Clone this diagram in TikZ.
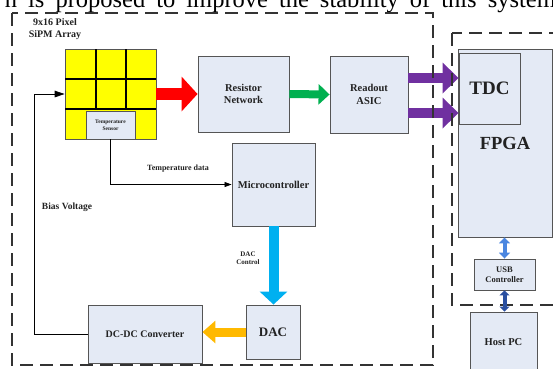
\documentclass[tikz,border=0pt]{standalone}
\usepackage{fontspec}
\setmainfont{Liberation Serif}
\usetikzlibrary{arrows.meta}
\definecolor{boxfill}{HTML}{E4EAF5}
\definecolor{boxline}{HTML}{555555}
\definecolor{dashcol}{HTML}{333333}
\definecolor{txt}{HTML}{222222}
\definecolor{sipmyellow}{HTML}{FFFF00}
\definecolor{arrred}{HTML}{FF0000}
\definecolor{arrgreen}{HTML}{00B050}
\definecolor{arrpurple}{HTML}{7030A0}
\definecolor{arrcyan}{HTML}{00B0F0}
\definecolor{arrorange}{HTML}{FFB900}
\definecolor{arrblue}{HTML}{4A86E0}
\definecolor{arrdblue}{HTML}{2A4FA0}
\begin{document}
\begin{tikzpicture}[x=1pt,y=-1pt,
  box/.style={draw=boxline,fill=boxfill,line width=0.9pt,inner sep=0pt,align=center,text=txt},
  lbl/.style={inner sep=0pt,align=center,text=txt},
  bf/.style={font=\fontsize{#1}{#1}\selectfont\bfseries},
  dashbox/.style={draw=dashcol,line width=1.3pt,dash pattern=on 13pt off 7pt},
  thin/.style={draw=black,line width=0.8pt},
  fat/.style={line width=#1},
]
\useasboundingbox (0,0) rectangle (553,368);
\clip (0,0) rectangle (553,368);

% cropped caption line at the top
\node[anchor=base east,inner sep=0pt,font=\fontsize{24.5}{24.5}\selectfont] (cap) at (556,7) {\spaceskip 11pt\relax n is proposed to improve the stability of this system};

% SiPM array
\node[draw=boxline,fill=sipmyellow,line width=0.6pt,minimum width=91pt,minimum height=90pt,inner sep=0pt] (sipm) at (110.5,94) {};
\draw[black,line width=1.4pt] (65,79) -- (156,79) (65,109) -- (156,109)
  (96,49) -- (96,109) (126,49) -- (126,109);
\node[box,line width=0.6pt,minimum width=49pt,minimum height=28pt,bf=5.5] (tsens) at (110.5,125) {Temperature\\[1pt]Sensor};

\node[lbl,bf=10] (sipmlbl) at (55,29.5) {9x16 Pixel\\[2pt]SiPM Array};

% blocks
\node[box,minimum width=91pt,minimum height=76pt,bf=10.5] (res) at (243.5,94) {Resistor\\[2pt]Network};
\node[box,minimum width=78pt,minimum height=77pt,bf=10.5] (asic) at (369,94.5) {Readout\\[2pt]ASIC};
\node[box,minimum width=83pt,minimum height=83pt,bf=10.5] (micro) at (273.5,184.5) {Microcontroller};
\node[box,minimum width=54pt,minimum height=54pt,bf=13] (dac) at (273,332) {DAC};
\node[box,minimum width=114pt,minimum height=58pt,bf=10] (dcdc) at (145,334) {DC-DC Converter};
\node[box,minimum width=94pt,minimum height=188pt,bf=18.5] (fpga) at (505,143) {FPGA};
\node[box,minimum width=61pt,minimum height=71pt,bf=19] (tdc) at (489.5,88.5) {TDC};
\node[box,minimum width=61pt,minimum height=31pt,bf=8.5] (usb) at (504.5,274.5) {USB\\[2pt]Controller};
\node[box,minimum width=67pt,minimum height=60pt,bf=10.5] (host) at (503.5,342) {Host PC};

% labels
\node[lbl,bf=8] (tdlbl) at (178,169) {Temperature data};
\node[lbl,bf=9.5] (bvlbl) at (67,207) {Bias Voltage};
\node[lbl,bf=7] (daclbl) at (248,258) {DAC\\[1pt]Control};

% thin connectors
\coordinate (fb) at (34,94);
\draw[thin,-{Triangle[length=10pt,width=6.5pt]}] (dcdc.west) -| (fb) -- (sipm.west);
\draw[thin,-{Triangle[length=7pt,width=5pt]}] (tsens.south) |- (micro.west);

% fat arrows
\draw[fat=12pt,arrred,-{Triangle[length=16pt,width=34pt]}] (sipm.east) -- (res.west);
\draw[fat=8pt,arrgreen,-{Triangle[length=11pt,width=20pt]}] (res.east) -- (asic.west);
\draw[fat=10pt,arrpurple,-{Triangle[length=16pt,width=30pt]}] ([yshift=16.5pt]asic.east) -- ([yshift=16.5pt]asic.east -| tdc.west);
\draw[fat=10pt,arrpurple,-{Triangle[length=16pt,width=30pt]}] ([yshift=-18.5pt]asic.east) -- ([yshift=-18.5pt]asic.east -| tdc.west);
\draw[fat=10pt,arrcyan,-{Triangle[length=13pt,width=27pt]}] (micro.south) -- (micro.south |- dac.north);
\draw[fat=9pt,arrorange,-{Triangle[length=13pt,width=22pt]}] (dac.west) -- (dac.west -| dcdc.east);
\draw[fat=4pt,arrblue,{Triangle[length=6pt,width=11pt]}-{Triangle[length=6pt,width=11pt]}] (fpga.south -| usb.north) -- (usb.north);

% dashed regions
\draw[dashbox] (12,13) rectangle (433,365);
\draw[dashbox] (452,33) rectangle (575,305);

\draw[fat=4pt,arrdblue,{Triangle[length=5pt,width=10pt]}-{Triangle[length=5pt,width=10pt]}] (usb.south) -- (usb.south |- host.north);
\end{tikzpicture}
\end{document}
